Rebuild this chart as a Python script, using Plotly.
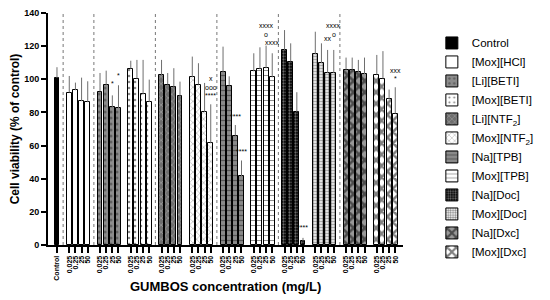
import plotly.graph_objects as go

# treatments (legend order) and concentrations (mg/L)
treatments = ["Control", "[Mox][HCl]", "[Li][BETI]", "[Mox][BETI]", "[Li][NTF<sub>2</sub>]",
              "[Mox][NTF<sub>2</sub>]", "[Na][TPB]", "[Mox][TPB]", "[Na][Doc]", "[Mox][Doc]",
              "[Na][Dxc]", "[Mox][Dxc]"]
concentrations = ["0.025", "0.25", "25", "50"]

# cell viability, % of control (mean) and upper error (SD)
control_mean = [100.8]
control_sd = [6.5]
mox_hcl = [92.0, 93.4, 86.8, 86.2]
mox_hcl_sd = [10.0, 4.6, 14.2, 12.6]
li_beti = [92.6, 96.6, 83.0, 82.6]
li_beti_sd = [11.2, 8.6, 7.3, 13.8]
mox_beti = [106.4, 100.4, 90.9, 86.3]
mox_beti_sd = [4.8, 11.3, 20.8, 13.5]
li_ntf2 = [102.6, 96.8, 95.2, 89.8]
li_ntf2_sd = [9.1, 7.0, 11.5, 8.8]
mox_ntf2 = [101.2, 96.8, 80.3, 61.4]
mox_ntf2_sd = [12.5, 12.9, 17.5, 23.5]
na_tpb = [104.2, 96.2, 66.0, 41.5]
na_tpb_sd = [15.5, 5.6, 6.4, 9.5]
mox_tpb = [104.8, 106.1, 106.7, 101.2]
mox_tpb_sd = [10.9, 13.2, 13.6, 14.5]
na_doc = [117.7, 110.7, 80.3, 2.3]
na_doc_sd = [12.0, 11.0, 11.9, 2.0]
mox_doc = [115.1, 109.7, 103.8, 103.8]
mox_doc_sd = [13.6, 12.0, 13.9, 13.9]
na_dxc = [105.8, 105.8, 104.2, 103.2]
na_dxc_sd = [7.3, 7.3, 7.5, 9.9]
mox_dxc = [102.8, 100.4, 87.9, 79.3]
mox_dxc_sd = [11.9, 16.6, 5.9, 15.9]

means = [control_mean, mox_hcl, li_beti, mox_beti, li_ntf2, mox_ntf2,
         na_tpb, mox_tpb, na_doc, mox_doc, na_dxc, mox_dxc]
sds = [control_sd, mox_hcl_sd, li_beti_sd, mox_beti_sd, li_ntf2_sd, mox_ntf2_sd,
       na_tpb_sd, mox_tpb_sd, na_doc_sd, mox_doc_sd, na_dxc_sd, mox_dxc_sd]

# significance marks: (treatment index, concentration index, text, y)
marks = [
    (2, 2, "*", 94), (2, 3, "*", 99),
    (5, 3, "****", 87), (5, 3, "ooo", 92), (5, 3, "x", 97),
    (6, 2, "****", 74), (6, 3, "****", 53),
    (7, 2, "xxxx", 129), (7, 2, "o", 124), (7, 3, "xxxx", 119),
    (8, 3, "****", 7),
    (9, 2, "xx", 121), (9, 3, "o", 124), (9, 3, "xxxx", 129),
    (11, 3, "*", 97), (11, 3, "xxx", 102),
]

# fill styles per treatment: bgcolor, pattern shape, fgcolor, size, solidity
styles = [
    ("black", "", "black", 6, 0.3),
    ("white", "", "black", 6, 0.3),
    ("#8c8c8c", ".", "#333333", 6, 0.2),
    ("white", ".", "#111111", 6, 0.15),
    ("#6e6e6e", "x", "#d0d0d0", 5, 0.25),
    ("white", "x", "#666666", 5, 0.25),
    ("#8a8a8a", "-", "#222222", 5, 0.25),
    ("white", "-", "#222222", 5, 0.2),
    ("black", ".", "#d8d8d8", 3, 0.45),
    ("white", ".", "#111111", 3, 0.5),
    ("#999999", "x", "black", 8, 0.55),
    ("white", "x", "black", 8, 0.55),
]


def slot(group, k=0):
    # x position of a bar: control at 0, then groups of 4 with one gap slot
    if group == 0:
        return 0
    return 2 + 5 * (group - 1) + k


fig = go.Figure()
for g, (name, y, sd) in enumerate(zip(treatments, means, sds)):
    bg, shape, fg, size, sol = styles[g]
    xs = [slot(g, k) for k in range(len(y))]
    fig.add_trace(go.Bar(
        x=xs, y=y, name=name, width=0.8,
        marker=dict(color=bg, line=dict(color="black", width=1),
                    pattern=dict(shape=shape, fgcolor=fg, bgcolor=bg, size=size,
                                 solidity=sol)),
        error_y=dict(type="data", symmetric=False, array=sd, arrayminus=[0] * len(sd),
                     color="#6e6e6e", thickness=1, width=0),
    ))

tickvals = [slot(0)] + [slot(g, k) for g in range(1, 12) for k in range(4)]
ticktext = ["Control"] + concentrations * 11

# dotted separators between pairs
for s in [1, 6, 16, 26, 36, 46]:
    fig.add_shape(type="line", x0=s, x1=s, y0=0, y1=140, xref="x", yref="y",
                  line=dict(color="#777777", width=1, dash="dot"), layer="below")

for g, k, txt, yv in marks:
    fig.add_annotation(x=slot(g, k), y=yv, text=txt, showarrow=False,
                       font=dict(size=7, color="black"), yanchor="bottom")

# x axis title placed just under the tick labels
fig.add_annotation(x=0.5, y=-0.177, xref="paper", yref="paper", showarrow=False,
                   text="GUMBOS concentration (mg/L)", yanchor="middle",
                   font=dict(size=13, weight="bold", color="black"))

# page body adds an 8px offset, so the figure is 8px smaller than the window
fig.update_layout(
    width=542, height=292,
    margin=dict(l=40, r=147, t=4.5, b=54.5, autoexpand=False),
    paper_bgcolor="white", plot_bgcolor="white",
    barmode="overlay", bargap=0,
    font=dict(family="Liberation Sans, Arial, sans-serif", color="black"),
    showlegend=True,
    legend=dict(x=0.782, y=0.93, xref="container", yref="container",
                xanchor="left", yanchor="top", maxheight=270,
                font=dict(size=11.5, color="black"), tracegroupgap=0,
                bgcolor="rgba(0,0,0,0)"),
    xaxis=dict(range=[-1.46, 56.26], tickvals=tickvals, ticktext=ticktext,
               tickangle=-90, tickfont=dict(size=7, weight="bold"),
               showline=True, linecolor="black", linewidth=2,
               ticks="outside", ticklen=6, tickwidth=2, tickcolor="black",
               showgrid=False, zeroline=False, automargin=False,
               ticklabeloverflow="allow"),
    yaxis=dict(range=[0, 140], tickvals=list(range(0, 141, 20)),
               tickfont=dict(size=9, weight="bold"),
               showline=True, linecolor="black", linewidth=2,
               ticks="outside", ticklen=5, tickwidth=2, tickcolor="black",
               showgrid=False, zeroline=False, automargin=False,
               ticklabeloverflow="allow",
               title=dict(text="Cell viability (% of control)",
                          font=dict(size=12, weight="bold"), standoff=12)),
)

fig.write_html("out.html")
